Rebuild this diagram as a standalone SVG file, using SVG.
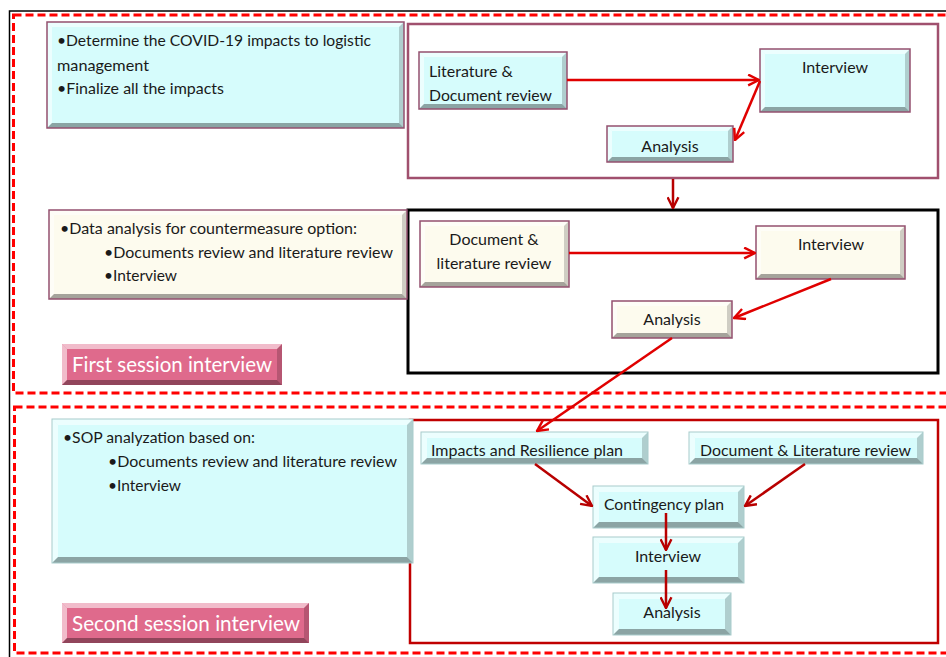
<svg xmlns="http://www.w3.org/2000/svg" width="946" height="657" viewBox="0 0 946 657">
<defs>
<marker id="ar" viewBox="0 0 12 12" refX="11" refY="6" markerWidth="13" markerHeight="13" markerUnits="userSpaceOnUse" orient="auto">
<path d="M1,1 L11,6 L1,11" fill="none" stroke="#e00000" stroke-width="2.2"/>
</marker>
<marker id="ard" viewBox="0 0 12 12" refX="11" refY="6" markerWidth="13" markerHeight="13" markerUnits="userSpaceOnUse" orient="auto">
<path d="M1,1 L11,6 L1,11" fill="none" stroke="#b80000" stroke-width="2.2"/>
</marker>
</defs>
<style>
text{font-family:Lato,"Liberation Sans",sans-serif;font-size:16px;fill:#1a1a1a}
.c{text-anchor:middle}
.lbl{font-size:21px;fill:#fff}
.cy{fill:#d6fcfc}
.cr{fill:#fdfbee}
.pk{fill:#df6a8c}
.hl{fill:#fff;opacity:.55}
.sr{fill:#000;opacity:.18}
.sb{fill:#000;opacity:.35}
.mo{fill:none;stroke:#94506f;stroke-width:1.5}
.lo{fill:none;stroke:#a8cccc;stroke-width:1}
.dash{fill:none;stroke:#ff0000;stroke-width:3;stroke-dasharray:8 4}
.ln{fill:none;stroke:#e00000;stroke-width:2.5}
.lnd{fill:none;stroke:#b80000;stroke-width:2.5}
</style>
<rect x="9.5" y="11" width="945" height="660" fill="#fff" stroke="#000" stroke-width="1.5"/>
<rect class="dash" x="13.5" y="15" width="950" height="378"/>
<rect class="dash" x="14.5" y="407" width="950" height="246"/>
<g id="container1"><rect x="408" y="24" width="530" height="154" fill="none" stroke="#a0506e" stroke-width="2.5"/></g>
<g id="container2"><rect x="408" y="210" width="530" height="163" fill="none" stroke="#000" stroke-width="3"/></g>
<g id="container3"><rect x="410" y="420" width="528" height="223" fill="none" stroke="#c00000" stroke-width="2.5"/></g>

<g id="task1">
<rect class="cy" x="47" y="22" width="357" height="106"/>
<polygon class="hl" points="47,22 404,22 399,27 52,27"/><polygon class="hl" points="47,22 52,27 52,123 47,128"/>
<polygon class="sr" points="404,22 404,128 399,123 399,27"/><polygon class="sb" points="47,128 404,128 399,123 52,123"/>
<rect class="mo" x="47" y="22" width="357" height="106"/>
<text x="57" y="46" textLength="314" lengthAdjust="spacingAndGlyphs">•Determine the COVID-19 impacts to logistic</text>
<text x="57" y="71" textLength="92" lengthAdjust="spacingAndGlyphs">management</text>
<text x="57" y="94" textLength="167" lengthAdjust="spacingAndGlyphs">•Finalize all the impacts</text>
</g>
<g id="task2">
<rect class="cr" x="49" y="210" width="358" height="89"/>
<polygon class="hl" points="49,210 407,210 402,215 54,215"/><polygon class="hl" points="49,210 54,215 54,294 49,299"/>
<polygon class="sr" points="407,210 407,299 402,294 402,215"/><polygon class="sb" points="49,299 407,299 402,294 54,294"/>
<rect class="mo" x="49" y="210" width="358" height="89"/>
<text x="60" y="234" textLength="297" lengthAdjust="spacingAndGlyphs">•Data analysis for countermeasure option:</text>
<text x="104" y="258" textLength="289" lengthAdjust="spacingAndGlyphs">•Documents review and literature review</text>
<text x="104" y="281" textLength="73" lengthAdjust="spacingAndGlyphs">•Interview</text>
</g>
<g id="task3">
<rect class="cy" x="52" y="419" width="361" height="144"/>
<polygon class="hl" points="52,419 413,419 407,425 58,425"/><polygon class="hl" points="52,419 58,425 58,557 52,563"/>
<polygon class="sr" points="413,419 413,563 407,557 407,425"/><polygon class="sb" points="52,563 413,563 407,557 58,557"/>
<rect class="lo" x="52" y="419" width="361" height="144"/>
<text x="63" y="443" textLength="192" lengthAdjust="spacingAndGlyphs">•SOP analyzation based on:</text>
<text x="108" y="467" textLength="289" lengthAdjust="spacingAndGlyphs">•Documents review and literature review</text>
<text x="108" y="491" textLength="73" lengthAdjust="spacingAndGlyphs">•Interview</text>
</g>
<g id="label1">
<rect class="pk" x="62" y="344" width="220" height="41"/>
<polygon class="hl" points="62,344 282,344 277,349 67,349"/><polygon class="hl" points="62,344 67,349 67,380 62,385"/>
<polygon class="sr" points="282,344 282,385 277,380 277,349"/><polygon class="sb" points="62,385 282,385 277,380 67,380"/>
<text class="lbl" x="72" y="372" textLength="200" lengthAdjust="spacingAndGlyphs">First session interview</text>
</g>
<g id="label2">
<rect class="pk" x="62" y="603" width="247" height="40"/>
<polygon class="hl" points="62,603 309,603 304,608 67,608"/><polygon class="hl" points="62,603 67,608 67,638 62,643"/>
<polygon class="sr" points="309,603 309,643 304,638 304,608"/><polygon class="sb" points="62,643 309,643 304,638 67,638"/>
<text class="lbl" x="72" y="631" textLength="228" lengthAdjust="spacingAndGlyphs">Second session interview</text>
</g>

<g id="lit1">
<rect class="cy" x="419" y="52" width="148" height="57"/>
<polygon class="hl" points="419,52 567,52 562,57 424,57"/><polygon class="hl" points="419,52 424,57 424,104 419,109"/>
<polygon class="sr" points="567,52 567,109 562,104 562,57"/><polygon class="sb" points="419,109 567,109 562,104 424,104"/>
<rect class="mo" x="419" y="52" width="148" height="57"/>
<text x="429" y="77">Literature &amp;</text>
<text x="429" y="101" textLength="123" lengthAdjust="spacingAndGlyphs">Document review</text>
</g>
<g id="interview1">
<rect class="cy" x="760" y="49" width="150" height="63"/>
<polygon class="hl" points="760,49 910,49 905,54 765,54"/><polygon class="hl" points="760,49 765,54 765,107 760,112"/>
<polygon class="sr" points="910,49 910,112 905,107 905,54"/><polygon class="sb" points="760,112 910,112 905,107 765,107"/>
<rect class="mo" x="760" y="49" width="150" height="63"/>
<text class="c" x="835" y="73">Interview</text>
</g>
<g id="analysis1">
<rect class="cy" x="607" y="126" width="126" height="36"/>
<polygon class="hl" points="607,126 733,126 728,131 612,131"/><polygon class="hl" points="607,126 612,131 612,157 607,162"/>
<polygon class="sr" points="733,126 733,162 728,157 728,131"/><polygon class="sb" points="607,162 733,162 728,157 612,157"/>
<rect class="mo" x="607" y="126" width="126" height="36"/>
<text class="c" x="670" y="152">Analysis</text>
</g>

<g id="doclit2">
<rect class="cr" x="420" y="221" width="149" height="66"/>
<polygon class="hl" points="420,221 569,221 564,226 425,226"/><polygon class="hl" points="420,221 425,226 425,282 420,287"/>
<polygon class="sr" points="569,221 569,287 564,282 564,226"/><polygon class="sb" points="420,287 569,287 564,282 425,282"/>
<rect class="mo" x="420" y="221" width="149" height="66"/>
<text class="c" x="494" y="245">Document &amp;</text>
<text class="c" x="494" y="269">literature review</text>
</g>
<g id="interview2">
<rect class="cr" x="756" y="226" width="149" height="53"/>
<polygon class="hl" points="756,226 905,226 900,231 761,231"/><polygon class="hl" points="756,226 761,231 761,274 756,279"/>
<polygon class="sr" points="905,226 905,279 900,274 900,231"/><polygon class="sb" points="756,279 905,279 900,274 761,274"/>
<rect class="mo" x="756" y="226" width="149" height="53"/>
<text class="c" x="831" y="250">Interview</text>
</g>
<g id="analysis2">
<rect class="cr" x="612" y="301" width="120" height="37"/>
<polygon class="hl" points="612,301 732,301 727,306 617,306"/><polygon class="hl" points="612,301 617,306 617,333 612,338"/>
<polygon class="sr" points="732,301 732,338 727,333 727,306"/><polygon class="sb" points="612,338 732,338 727,333 617,333"/>
<rect class="mo" x="612" y="301" width="120" height="37"/>
<text class="c" x="672" y="325">Analysis</text>
</g>

<g id="impacts">
<rect class="cy" x="421" y="432" width="227" height="32"/>
<polygon class="hl" points="421,432 648,432 642,438 427,438"/><polygon class="hl" points="421,432 427,438 427,458 421,464"/>
<polygon class="sr" points="648,432 648,464 642,458 642,438"/><polygon class="sb" points="421,464 648,464 642,458 427,458"/>
<rect class="lo" x="421" y="432" width="227" height="32"/>
<text x="431" y="456" textLength="192" lengthAdjust="spacingAndGlyphs">Impacts and Resilience plan</text>
</g>
<g id="doclit3">
<rect class="cy" x="689" y="432" width="234" height="32"/>
<polygon class="hl" points="689,432 923,432 917,438 695,438"/><polygon class="hl" points="689,432 695,438 695,458 689,464"/>
<polygon class="sr" points="923,432 923,464 917,458 917,438"/><polygon class="sb" points="689,464 923,464 917,458 695,458"/>
<rect class="lo" x="689" y="432" width="234" height="32"/>
<text x="700" y="456" textLength="211" lengthAdjust="spacingAndGlyphs">Document &amp; Literature review</text>
</g>
<g id="contingency">
<rect class="cy" x="593" y="486" width="151" height="42"/>
<polygon class="hl" points="593,486 744,486 738,492 599,492"/><polygon class="hl" points="593,486 599,492 599,522 593,528"/>
<polygon class="sr" points="744,486 744,528 738,522 738,492"/><polygon class="sb" points="593,528 744,528 738,522 599,522"/>
<rect class="lo" x="593" y="486" width="151" height="42"/>
<text x="604" y="510" textLength="120" lengthAdjust="spacingAndGlyphs">Contingency plan</text>
</g>
<g id="interview3">
<rect class="cy" x="593" y="537" width="151" height="46"/>
<polygon class="hl" points="593,537 744,537 738,543 599,543"/><polygon class="hl" points="593,537 599,543 599,577 593,583"/>
<polygon class="sr" points="744,537 744,583 738,577 738,543"/><polygon class="sb" points="593,583 744,583 738,577 599,577"/>
<rect class="lo" x="593" y="537" width="151" height="46"/>
<text class="c" x="668" y="562">Interview</text>
</g>
<g id="analysis3">
<rect class="cy" x="613" y="593" width="118" height="42"/>
<polygon class="hl" points="613,593 731,593 725,599 619,599"/><polygon class="hl" points="613,593 619,599 619,629 613,635"/>
<polygon class="sr" points="731,593 731,635 725,629 725,599"/><polygon class="sb" points="613,635 731,635 725,629 619,629"/>
<rect class="lo" x="613" y="593" width="118" height="42"/>
<text class="c" x="672" y="618">Analysis</text>
</g>

<g id="connectors">
<line class="ln" x1="567" y1="80" x2="759" y2="80" marker-end="url(#ar)"/>
<line class="ln" x1="760" y1="81" x2="735" y2="140" marker-end="url(#ar)"/>
<line class="lnd" x1="673" y1="179" x2="673" y2="208" marker-end="url(#ard)"/>
<line class="ln" x1="569" y1="253" x2="755" y2="253" marker-end="url(#ar)"/>
<line class="ln" x1="831" y1="279" x2="734" y2="318" marker-end="url(#ar)"/>
<line class="ln" x1="672" y1="338" x2="537" y2="431" marker-end="url(#ar)"/>
<line class="lnd" x1="535" y1="464" x2="592" y2="506" marker-end="url(#ard)"/>
<line class="lnd" x1="805" y1="464" x2="745" y2="506" marker-end="url(#ard)"/>
<line class="lnd" x1="666" y1="513" x2="666" y2="550" marker-end="url(#ard)"/>
<line class="lnd" x1="666" y1="570" x2="666" y2="608" marker-end="url(#ard)"/>
</g>
</svg>
